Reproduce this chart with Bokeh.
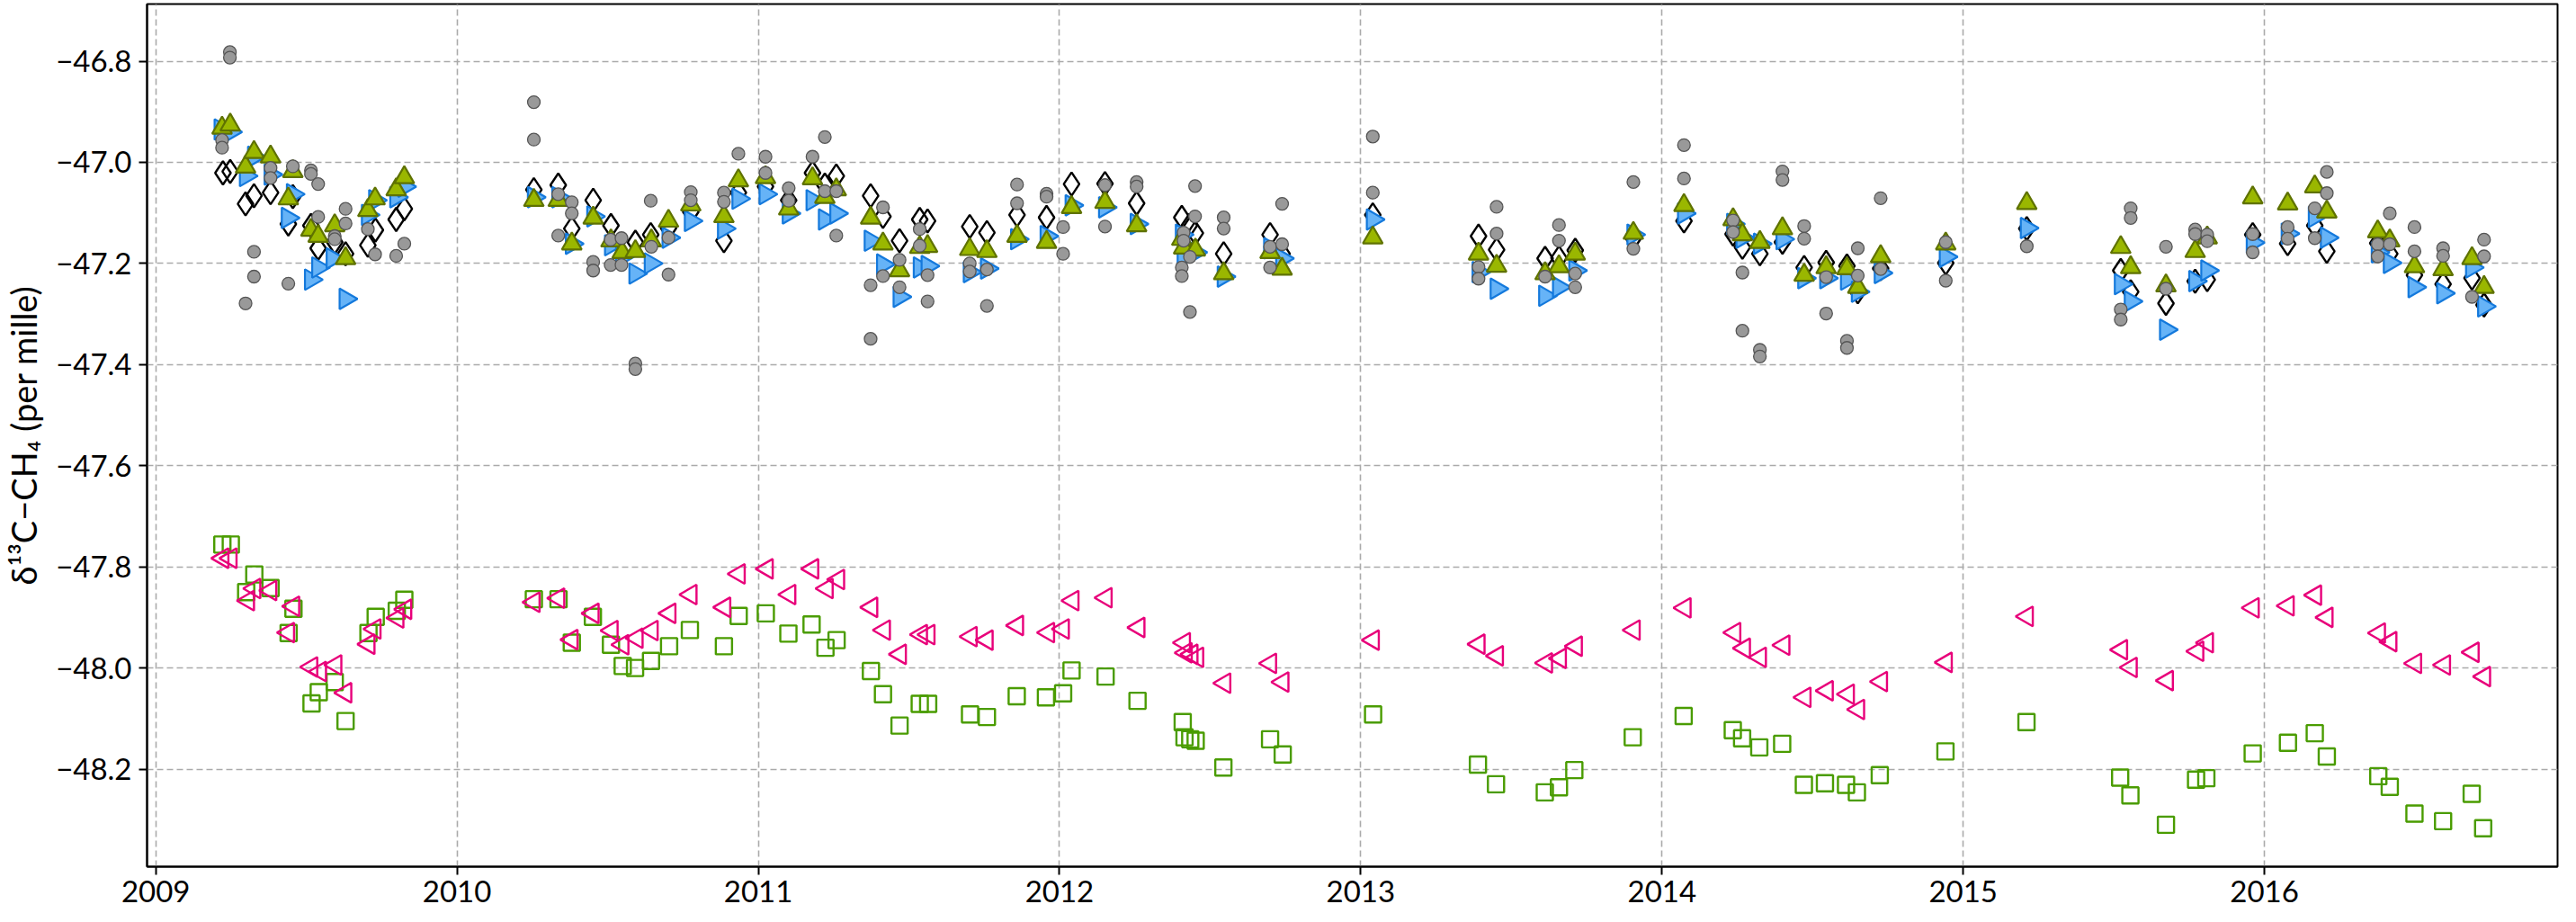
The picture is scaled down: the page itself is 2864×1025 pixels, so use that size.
import math
from bokeh.plotting import figure
from bokeh.models import Range1d, FixedTicker, CustomJSTickFormatter
from bokeh.embed import file_html
from bokeh.resources import INLINE

# ---------------- data (decimal year, per mille) ----------------
grey_x = [2009.220, 2009.220, 2009.246, 2009.246, 2009.298, 2009.326, 2009.326, 2009.381, 2009.381, 2009.440,
          2009.455, 2009.515, 2009.515, 2009.539, 2009.539, 2009.594, 2009.594, 2009.630, 2009.630, 2009.704,
          2009.728, 2009.798, 2009.825, 2010.255, 2010.255, 2010.336, 2010.336, 2010.381, 2010.381, 2010.452,
          2010.452, 2010.510, 2010.546, 2010.510, 2010.546, 2010.592, 2010.592, 2010.643, 2010.645, 2010.702,
          2010.702, 2010.776, 2010.776, 2010.886, 2010.886, 2010.934, 2011.024, 2011.024, 2011.101, 2011.101,
          2011.180, 2011.221, 2011.221, 2011.259, 2011.259, 2011.373, 2011.373, 2011.414, 2011.414, 2011.469,
          2011.469, 2011.536, 2011.536, 2011.562, 2011.562, 2011.702, 2011.702, 2011.759, 2011.759, 2011.859,
          2011.859, 2011.957, 2011.957, 2012.012, 2012.012, 2012.151, 2012.151, 2012.256, 2012.256, 2012.406,
          2012.406, 2012.412, 2012.412, 2012.433, 2012.433, 2012.450, 2012.450, 2012.545, 2012.545, 2012.699,
          2012.699, 2012.739, 2012.739, 2013.040, 2013.040, 2013.391, 2013.391, 2013.451, 2013.451, 2013.612,
          2013.658, 2013.658, 2013.712, 2013.712, 2013.905, 2013.905, 2014.073, 2014.073, 2014.236, 2014.236,
          2014.267, 2014.267, 2014.325, 2014.325, 2014.400, 2014.400, 2014.472, 2014.472, 2014.545, 2014.545,
          2014.614, 2014.614, 2014.650, 2014.650, 2014.726, 2014.726, 2014.942, 2014.942, 2015.211, 2015.523,
          2015.523, 2015.556, 2015.556, 2015.673, 2015.673, 2015.770, 2015.770, 2015.810, 2015.810, 2015.961,
          2015.961, 2016.077, 2016.077, 2016.167, 2016.167, 2016.207, 2016.207, 2016.376, 2016.376, 2016.416,
          2016.416, 2016.498, 2016.498, 2016.593, 2016.593, 2016.689, 2016.729, 2016.729]
grey_y = [-46.956, -46.971, -46.782, -46.793, -47.279, -47.177, -47.226, -47.011, -47.031, -47.240,
          -47.008, -47.016, -47.023, -47.043, -47.108, -47.146, -47.152, -47.092, -47.121, -47.132,
          -47.182, -47.185, -47.161, -46.881, -46.955, -47.063, -47.145, -47.079, -47.101, -47.197,
          -47.214, -47.153, -47.150, -47.203, -47.203, -47.398, -47.409, -47.076, -47.167, -47.149,
          -47.222, -47.059, -47.075, -47.060, -47.078, -46.983, -46.989, -47.021, -47.051, -47.076,
          -46.989, -46.950, -47.057, -47.057, -47.145, -47.243, -47.349, -47.089, -47.225, -47.193,
          -47.247, -47.132, -47.165, -47.223, -47.275, -47.200, -47.216, -47.212, -47.284, -47.044,
          -47.081, -47.062, -47.068, -47.128, -47.181, -47.045, -47.127, -47.039, -47.048, -47.208,
          -47.225, -47.139, -47.155, -47.187, -47.296, -47.047, -47.107, -47.109, -47.131, -47.167,
          -47.208, -47.082, -47.162, -46.949, -47.060, -47.207, -47.230, -47.088, -47.141, -47.226,
          -47.124, -47.155, -47.220, -47.247, -47.039, -47.171, -46.966, -47.032, -47.115, -47.138,
          -47.218, -47.333, -47.371, -47.384, -47.018, -47.035, -47.126, -47.151, -47.227, -47.299,
          -47.353, -47.367, -47.170, -47.224, -47.071, -47.211, -47.158, -47.234, -47.166, -47.291,
          -47.311, -47.091, -47.110, -47.167, -47.250, -47.133, -47.142, -47.143, -47.156, -47.142,
          -47.178, -47.128, -47.151, -47.091, -47.150, -47.019, -47.061, -47.162, -47.186, -47.101,
          -47.162, -47.128, -47.176, -47.170, -47.185, -47.266, -47.153, -47.186]

diamond_x = [2009.223, 2009.247, 2009.298, 2009.326, 2009.381, 2009.440, 2009.455, 2009.515, 2009.539, 2009.594,
             2009.630, 2009.704, 2009.729, 2009.798, 2009.825, 2010.255, 2010.336, 2010.381, 2010.452, 2010.511,
             2010.592, 2010.643, 2010.702, 2010.776, 2010.886, 2010.934, 2011.024, 2011.101, 2011.180, 2011.221,
             2011.259, 2011.373, 2011.414, 2011.469, 2011.536, 2011.562, 2011.702, 2011.759, 2011.859, 2011.957,
             2012.040, 2012.151, 2012.256, 2012.406, 2012.431, 2012.451, 2012.545, 2012.699, 2012.739, 2013.040,
             2013.391, 2013.451, 2013.612, 2013.658, 2013.712, 2013.905, 2014.073, 2014.236, 2014.267, 2014.325,
             2014.400, 2014.472, 2014.545, 2014.614, 2014.650, 2014.726, 2014.942, 2015.211, 2015.523, 2015.556,
             2015.673, 2015.770, 2015.810, 2015.961, 2016.077, 2016.167, 2016.207, 2016.376, 2016.416, 2016.498,
             2016.593, 2016.689, 2016.729]
diamond_y = [-47.021, -47.018, -47.082, -47.066, -47.060, -47.122, -47.068, -47.125, -47.170, -47.158,
             -47.181, -47.164, -47.134, -47.113, -47.092, -47.054, -47.045, -47.131, -47.075, -47.125,
             -47.158, -47.143, -47.130, -47.098, -47.155, -47.060, -47.048, -47.075, -47.021, -47.045,
             -47.027, -47.066, -47.107, -47.155, -47.113, -47.116, -47.127, -47.139, -47.104, -47.109,
             -47.043, -47.042, -47.081, -47.109, -47.125, -47.140, -47.181, -47.143, -47.181, -47.104,
             -47.146, -47.173, -47.190, -47.189, -47.174, -47.150, -47.116, -47.142, -47.168, -47.181,
             -47.158, -47.208, -47.198, -47.205, -47.256, -47.210, -47.199, -47.131, -47.214, -47.256,
             -47.279, -47.235, -47.232, -47.143, -47.161, -47.125, -47.176, -47.160, -47.181, -47.223,
             -47.241, -47.229, -47.282]

blue_x = [2009.215, 2009.247, 2009.299, 2009.326, 2009.381, 2009.438, 2009.455, 2009.515, 2009.539, 2009.587,
          2009.630, 2009.704, 2009.728, 2009.798, 2009.825, 2010.255, 2010.336, 2010.381, 2010.452, 2010.511,
          2010.548, 2010.592, 2010.643, 2010.702, 2010.776, 2010.886, 2010.934, 2011.024, 2011.101, 2011.180,
          2011.221, 2011.259, 2011.373, 2011.414, 2011.469, 2011.536, 2011.562, 2011.702, 2011.759, 2011.859,
          2011.957, 2012.040, 2012.151, 2012.256, 2012.406, 2012.412, 2012.451, 2012.545, 2012.699, 2012.739,
          2013.040, 2013.391, 2013.451, 2013.612, 2013.658, 2013.712, 2013.905, 2014.073, 2014.236, 2014.267,
          2014.325, 2014.400, 2014.472, 2014.545, 2014.614, 2014.650, 2014.726, 2014.942, 2015.211, 2015.523,
          2015.556, 2015.673, 2015.770, 2015.810, 2015.961, 2016.077, 2016.167, 2016.207, 2016.376, 2016.416,
          2016.498, 2016.593, 2016.689, 2016.729]
blue_y = [-46.935, -46.940, -47.027, -46.989, -47.024, -47.110, -47.063, -47.232, -47.208, -47.190,
          -47.270, -47.104, -47.075, -47.069, -47.048, -47.069, -47.069, -47.161, -47.107, -47.164,
          -47.187, -47.220, -47.200, -47.149, -47.116, -47.131, -47.072, -47.063, -47.101, -47.075,
          -47.113, -47.101, -47.155, -47.202, -47.266, -47.208, -47.205, -47.217, -47.210, -47.152,
          -47.146, -47.085, -47.089, -47.122, -47.143, -47.187, -47.178, -47.226, -47.170, -47.190,
          -47.113, -47.217, -47.250, -47.264, -47.247, -47.214, -47.143, -47.101, -47.122, -47.149,
          -47.161, -47.152, -47.229, -47.229, -47.232, -47.256, -47.219, -47.187, -47.130, -47.241,
          -47.275, -47.331, -47.235, -47.214, -47.159, -47.141, -47.108, -47.149, -47.178, -47.199,
          -47.247, -47.259, -47.208, -47.285]

olive_x = [2009.220, 2009.247, 2009.298, 2009.326, 2009.381, 2009.440, 2009.455, 2009.515, 2009.539, 2009.594,
           2009.630, 2009.704, 2009.728, 2009.798, 2009.825, 2010.255, 2010.336, 2010.381, 2010.452, 2010.511,
           2010.548, 2010.592, 2010.645, 2010.702, 2010.776, 2010.886, 2010.934, 2011.024, 2011.101, 2011.180,
           2011.221, 2011.259, 2011.373, 2011.414, 2011.469, 2011.536, 2011.562, 2011.702, 2011.759, 2011.859,
           2011.957, 2012.040, 2012.151, 2012.256, 2012.406, 2012.412, 2012.451, 2012.545, 2012.699, 2012.739,
           2013.040, 2013.391, 2013.451, 2013.612, 2013.658, 2013.712, 2013.905, 2014.073, 2014.236, 2014.267,
           2014.325, 2014.400, 2014.472, 2014.545, 2014.614, 2014.650, 2014.726, 2014.942, 2015.211, 2015.523,
           2015.556, 2015.673, 2015.770, 2015.810, 2015.961, 2016.077, 2016.167, 2016.207, 2016.376, 2016.416,
           2016.498, 2016.593, 2016.689, 2016.729]
olive_y = [-46.932, -46.926, -47.009, -46.980, -46.989, -47.072, -47.018, -47.134, -47.146, -47.125,
           -47.190, -47.095, -47.072, -47.054, -47.030, -47.075, -47.075, -47.161, -47.110, -47.155,
           -47.178, -47.176, -47.155, -47.116, -47.084, -47.107, -47.036, -47.030, -47.092, -47.032,
           -47.069, -47.054, -47.110, -47.161, -47.214, -47.168, -47.166, -47.172, -47.176, -47.146,
           -47.158, -47.089, -47.079, -47.125, -47.152, -47.169, -47.173, -47.220, -47.178, -47.211,
           -47.149, -47.181, -47.205, -47.220, -47.206, -47.181, -47.140, -47.085, -47.113, -47.143,
           -47.158, -47.131, -47.223, -47.208, -47.210, -47.247, -47.186, -47.161, -47.081, -47.168,
           -47.208, -47.244, -47.176, -47.149, -47.070, -47.082, -47.048, -47.098, -47.137, -47.155,
           -47.206, -47.212, -47.190, -47.247]

magenta_x = [2009.222, 2009.249, 2009.307, 2009.328, 2009.381, 2009.440, 2009.457, 2009.517, 2009.546, 2009.597,
             2009.630, 2009.707, 2009.727, 2009.803, 2009.829, 2010.255, 2010.337, 2010.381, 2010.451, 2010.514,
             2010.550, 2010.597, 2010.647, 2010.706, 2010.776, 2010.888, 2010.936, 2011.029, 2011.104, 2011.180,
             2011.228, 2011.266, 2011.376, 2011.418, 2011.471, 2011.541, 2011.566, 2011.706, 2011.759, 2011.860,
             2011.963, 2012.012, 2012.044, 2012.154, 2012.263, 2012.414, 2012.420, 2012.439, 2012.458, 2012.548,
             2012.700, 2012.741, 2013.041, 2013.392, 2013.453, 2013.616, 2013.662, 2013.715, 2013.907, 2014.076,
             2014.241, 2014.273, 2014.326, 2014.404, 2014.474, 2014.548, 2014.618, 2014.652, 2014.728, 2014.943,
             2015.212, 2015.525, 2015.557, 2015.677, 2015.778, 2015.810, 2015.962, 2016.078, 2016.169, 2016.207,
             2016.381, 2016.419, 2016.501, 2016.597, 2016.692, 2016.730]
magenta_y = [-47.783, -47.783, -47.867, -47.843, -47.847, -47.930, -47.878, -47.998, -48.007, -47.994,
             -48.049, -47.953, -47.923, -47.901, -47.884, -47.870, -47.862, -47.944, -47.892, -47.926,
             -47.954, -47.941, -47.926, -47.892, -47.855, -47.880, -47.814, -47.804, -47.855, -47.804,
             -47.843, -47.825, -47.880, -47.925, -47.973, -47.934, -47.934, -47.938, -47.945, -47.916,
             -47.930, -47.923, -47.867, -47.861, -47.920, -47.950, -47.970, -47.973, -47.979, -48.030,
             -47.991, -48.028, -47.945, -47.953, -47.976, -47.990, -47.981, -47.957, -47.925, -47.881,
             -47.930, -47.961, -47.979, -47.955, -48.058, -48.045, -48.052, -48.082, -48.027, -47.989,
             -47.898, -47.964, -47.999, -48.025, -47.967, -47.950, -47.881, -47.877, -47.856, -47.900,
             -47.931, -47.948, -47.991, -47.994, -47.969, -48.017]

square_x = [2009.221, 2009.249, 2009.300, 2009.327, 2009.381, 2009.441, 2009.457, 2009.517, 2009.541, 2009.594,
            2009.630, 2009.706, 2009.730, 2009.800, 2009.825, 2010.255, 2010.337, 2010.381, 2010.451, 2010.511,
            2010.550, 2010.591, 2010.644, 2010.704, 2010.773, 2010.886, 2010.935, 2011.025, 2011.100, 2011.177,
            2011.223, 2011.260, 2011.374, 2011.414, 2011.469, 2011.536, 2011.564, 2011.703, 2011.759, 2011.858,
            2011.955, 2012.012, 2012.040, 2012.153, 2012.259, 2012.409, 2012.415, 2012.434, 2012.452, 2012.544,
            2012.699, 2012.741, 2013.041, 2013.389, 2013.449, 2013.611, 2013.658, 2013.709, 2013.903, 2014.072,
            2014.235, 2014.266, 2014.323, 2014.399, 2014.471, 2014.541, 2014.611, 2014.647, 2014.723, 2014.941,
            2015.210, 2015.521, 2015.555, 2015.673, 2015.773, 2015.807, 2015.961, 2016.078, 2016.167, 2016.207,
            2016.378, 2016.416, 2016.498, 2016.593, 2016.688, 2016.726]
square_y = [-47.756, -47.756, -47.850, -47.815, -47.842, -47.931, -47.883, -48.070, -48.048, -48.028,
            -48.105, -47.931, -47.899, -47.887, -47.865, -47.864, -47.864, -47.950, -47.899, -47.954,
            -47.996, -48.000, -47.986, -47.957, -47.925, -47.957, -47.897, -47.892, -47.932, -47.914,
            -47.960, -47.945, -48.006, -48.052, -48.114, -48.071, -48.071, -48.092, -48.097, -48.056,
            -48.058, -48.050, -48.005, -48.017, -48.065, -48.107, -48.137, -48.141, -48.144, -48.197,
            -48.141, -48.171, -48.092, -48.191, -48.230, -48.246, -48.236, -48.202, -48.137, -48.095,
            -48.123, -48.139, -48.157, -48.150, -48.231, -48.228, -48.231, -48.246, -48.212, -48.165,
            -48.107, -48.217, -48.252, -48.310, -48.221, -48.218, -48.169, -48.148, -48.129, -48.175,
            -48.214, -48.235, -48.288, -48.303, -48.249, -48.317]

year_ticks = [2009, 2010, 2011, 2012, 2013, 2014, 2015, 2016]
value_ticks = [-48.2, -48.0, -47.8, -47.6, -47.4, -47.2, -47.0, -46.8]
y_label = "δ¹³C−CH₄ (per mille)"

# ---------------- figure ----------------
p = figure(width=2848, height=1014,
           x_range=Range1d(2008.971, 2016.973), y_range=Range1d(-48.393, -46.687),
           output_backend="svg", toolbar_location=None,
           min_border_left=155, min_border_right=5, min_border_top=4, min_border_bottom=51)
p.background_fill_color = "white"
p.border_fill_color = "white"
p.outline_line_color = "black"
p.outline_line_width = 2
p.outline_line_alpha = 1.0

p.xaxis.ticker = FixedTicker(ticks=year_ticks)
p.yaxis.ticker = FixedTicker(ticks=value_ticks)
p.xaxis.formatter = CustomJSTickFormatter(code="return tick.toFixed(0);")
p.yaxis.formatter = CustomJSTickFormatter(code="return (tick < 0 ? '\u2212' : '') + Math.abs(tick).toFixed(1);")

for ax in (p.xaxis, p.yaxis):
    ax.axis_line_color = "black"
    ax.axis_line_width = 2
    ax.major_tick_in = 0
    ax.major_tick_out = 9
    ax.major_tick_line_width = 2
    ax.major_tick_line_color = "black"
    ax.minor_tick_line_color = None
    ax.major_label_text_font = "Lato"
    ax.major_label_text_font_size = "33px"
    ax.major_label_text_color = "black"
p.xaxis.major_label_standoff = 6
p.yaxis.major_label_standoff = 8

p.yaxis.axis_label = y_label
p.yaxis.axis_label_text_font = "Lato"
p.yaxis.axis_label_text_font_size = "38px"
p.yaxis.axis_label_text_font_style = "normal"
p.yaxis.axis_label_text_color = "black"
p.yaxis.axis_label_standoff = 10

for g in (p.xgrid, p.ygrid):
    g.grid_line_color = "#aaaaaa"
    g.grid_line_width = 1.6
    g.grid_line_dash = "7 4"

# markers (drawing order: diamonds, blue, olive, grey; squares, magenta)
p.scatter(diamond_x, diamond_y, marker="diamond", size=26, fill_color=None,
          line_color="black", line_width=2.4)
p.scatter(blue_x, blue_y, marker="triangle", angle=-math.pi / 2, size=23,
          fill_color="#66b3f7", line_color="#1479dc", line_width=2.2)
p.scatter(olive_x, olive_y, marker="triangle", size=22,
          fill_color="#9ab700", line_color="#5f7200", line_width=2.2)
p.scatter(grey_x, grey_y, marker="circle", size=14,
          fill_color="#999999", line_color="#555555", line_width=1.3)
p.scatter(square_x, square_y, marker="square", size=18, fill_color=None,
          line_color="#4a9c00", line_width=2.4)
p.scatter(magenta_x, magenta_y, marker="triangle", angle=math.pi / 2, size=22, fill_color=None,
          line_color="#e8007a", line_width=2.4)

open("out.html", "w").write(file_html(p, INLINE))
